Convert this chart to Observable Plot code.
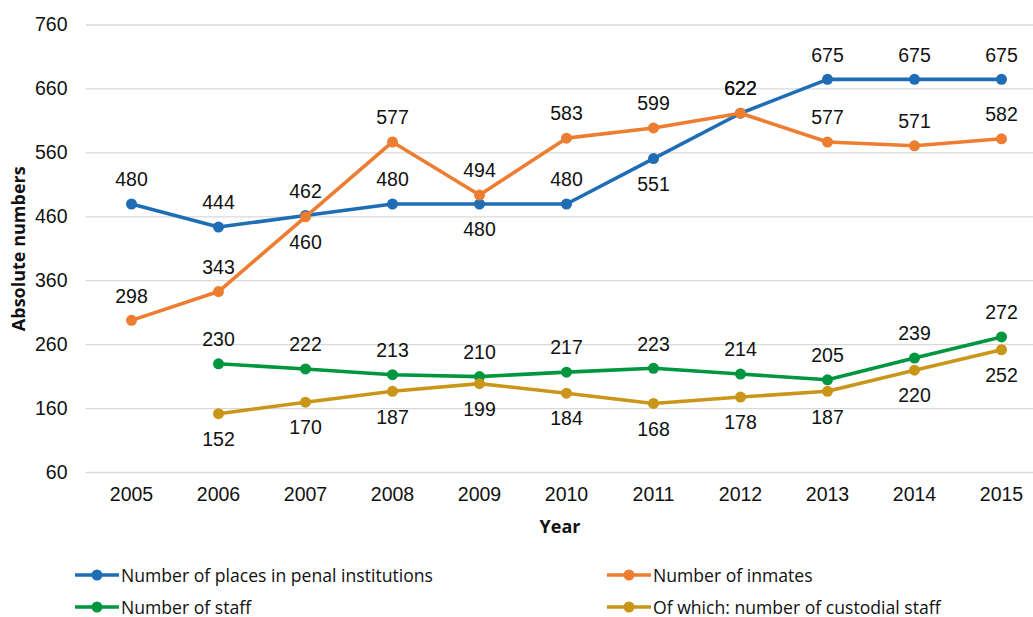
<!DOCTYPE html>
<html>
<head>
<meta charset="utf-8">
<script src="https://cdn.jsdelivr.net/npm/d3@7"></script>
<script src="https://cdn.jsdelivr.net/npm/@observablehq/plot@0.6"></script>
<style>
  body { margin: 0; background: #fff; }
  #wrap { position: relative; width: 1033px; height: 617px; }
  #legend { position: absolute; left: 0; top: 558px; width: 1033px; height: 60px;
    font-family: "Open Sans", "Noto Sans", sans-serif; font-size: 17.6px; color: #111; }
  .item { position: absolute; display: flex; align-items: center; height: 32px; }
  .item svg { margin-right: 1px; }
</style>
</head>
<body>
<div id="wrap">
  <div id="chart"></div>
  <div id="legend"></div>
</div>
<script>
const years = [2005, 2006, 2007, 2008, 2009, 2010, 2011, 2012, 2013, 2014, 2015];
const places = [480, 444, 462, 480, 480, 480, 551, 622, 675, 675, 675];
const inmates = [298, 343, 460, 577, 494, 583, 599, 622, 577, 571, 582];
const staff = [null, 230, 222, 213, 210, 217, 223, 214, 205, 239, 272];
const custodial = [null, 152, 170, 187, 199, 184, 168, 178, 187, 220, 252];
const seriesNames = [
  "Number of places in penal institutions",
  "Number of inmates",
  "Number of staff",
  "Of which: number of custodial staff"
];
const yTicks = [60, 160, 260, 360, 460, 560, 660, 760];

// label placement (layout only)
const colors = ["#1f6db5", "#ed7d31", "#00963f", "#c9961a"];
const belowYears = [[2009, 2011], [2007], [], years];
const seriesValues = [places, inmates, staff, custodial];

const rows = [];
seriesValues.forEach((vals, s) => {
  years.forEach((yr, i) => {
    if (vals[i] != null) rows.push({series: seriesNames[s], year: yr, value: vals[i], s, below: belowYears[s].includes(yr)});
  });
});

const numFont = "Liberation Sans, Arial, sans-serif";
const numSize = 19.5;

const marks = [
  Plot.gridY(yTicks, {stroke: "#d9d9d9", strokeOpacity: 1, strokeWidth: 1.3}),
  Plot.axisY({ticks: yTicks, tickSize: 0, tickPadding: 19, fontSize: numSize, fontFamily: numFont,
    label: "Absolute numbers", labelAnchor: "center", labelArrow: "none", labelOffset: 74}),
  Plot.axisX({tickSize: 0, tickPadding: 15, fontSize: numSize, fontFamily: numFont, tickFormat: d => String(d),
    label: "Year", labelAnchor: "center", labelArrow: "none", labelOffset: 60})
];
seriesValues.forEach((vals, s) => {
  const d = rows.filter(r => r.s === s);
  marks.push(Plot.line(d, {x: "year", y: "value", stroke: colors[s], strokeWidth: 3.6}));
  marks.push(Plot.dot(d, {x: "year", y: "value", fill: colors[s], r: 5.5, stroke: "none"}));
});
seriesValues.forEach((vals, s) => {
  const d = rows.filter(r => r.s === s);
  marks.push(Plot.text(d.filter(r => !r.below), {x: "year", y: "value", text: r => String(r.value), dy: -24, fontSize: numSize, fontFamily: numFont, fill: "#111"}));
  marks.push(Plot.text(d.filter(r => r.below), {x: "year", y: "value", text: r => String(r.value), dy: 26, fontSize: numSize, fontFamily: numFont, fill: "#111"}));
});

const chart = Plot.plot({
  width: 1033,
  height: 545,
  marginLeft: 86,
  marginRight: 0,
  marginTop: 24.5,
  marginBottom: 73,
  style: {fontFamily: "Open Sans, sans-serif", color: "#111", background: "#fff"},
  x: {type: "point", domain: years, range: [129.6, 1001.6], padding: 0, label: null, axis: null},
  y: {domain: [60, 760], label: null, axis: null},
  marks
});
document.getElementById("chart").appendChild(chart);

// axis title styling
chart.querySelectorAll("[aria-label='y-axis label'] text, [aria-label='x-axis label'] text").forEach(t => {
  t.style.fontWeight = "bold";
  t.style.fontSize = "18px";
  t.style.fontFamily = "Open Sans, sans-serif";
});

// legend
const legend = document.getElementById("legend");
const legendPos = [[74, 1], [606, 1], [74, 33], [606, 33]];
seriesNames.forEach((name, s) => {
  const it = document.createElement("div");
  it.className = "item";
  it.style.left = legendPos[s][0] + "px";
  it.style.top = legendPos[s][1] + "px";
  const sw = d3.create("svg").attr("width", 46).attr("height", 14);
  sw.append("line").attr("x1", 1).attr("x2", 45).attr("y1", 7).attr("y2", 7).attr("stroke", colors[s]).attr("stroke-width", 3.6);
  sw.append("circle").attr("cx", 23).attr("cy", 7).attr("r", 5.5).attr("fill", colors[s]);
  it.appendChild(sw.node());
  const sp = document.createElement("span");
  sp.textContent = name;
  it.appendChild(sp);
  legend.appendChild(it);
});
</script>
</body>
</html>
